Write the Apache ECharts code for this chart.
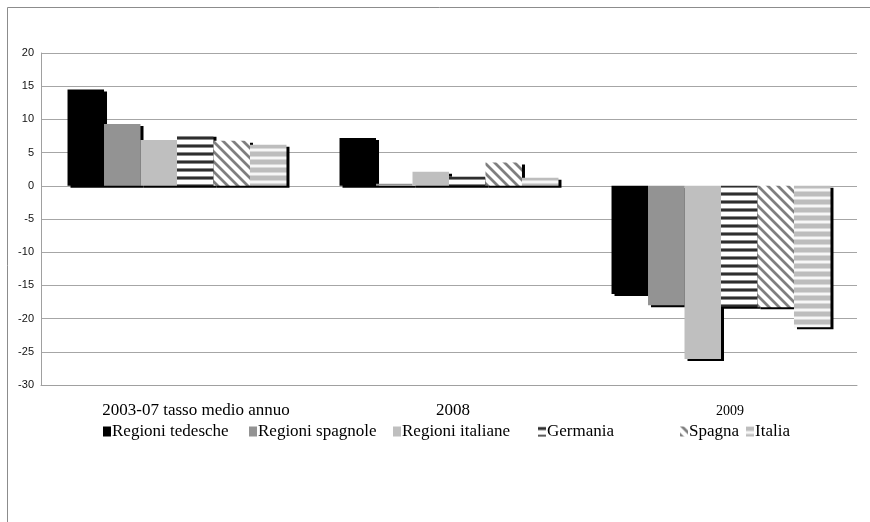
<!DOCTYPE html>
<html><head><meta charset="utf-8">
<script src="https://cdn.jsdelivr.net/npm/echarts@6/dist/echarts.min.js"></script>
<style>html,body{margin:0;padding:0;background:#fff}#c{width:870px;height:522px}</style>
</head><body><div id="c"></div>
<script>
const categories = ['2003-07 tasso medio annuo', '2008', '2009'];
const seriesNames = ['Regioni tedesche', 'Regioni spagnole', 'Regioni italiane', 'Germania', 'Spagna', 'Italia'];
const regioniTedesche = [14.5, 7.2, -16.3];
const regioniSpagnole = [9.3, 0.3, -18.0];
const regioniItaliane = [6.9, 2.1, -26.1];
const germania = [7.7, 1.4, -18.2];
const spagna = [6.8, 3.5, -18.3];
const italia = [6.2, 1.2, -21.3];
const yTicks = { min: -30, max: 20, interval: 5 };

function rowPattern(rows) {
  const c = document.createElement('canvas');
  c.width = 8; c.height = rows.length;
  const g = c.getContext('2d');
  rows.forEach((col, i) => { g.fillStyle = col; g.fillRect(0, i, 8, 1); });
  return c;
}
function diagPattern() {
  const n = 10;
  const c = document.createElement('canvas');
  c.width = n; c.height = n;
  const g = c.getContext('2d');
  for (let y = 0; y < n; y++) for (let x = 0; x < n; x++) {
    const d = ((x - y) % n + n) % n;
    let col = '#ffffff';
    if (d === 0 || d === 4) col = '#c4c4c4';
    else if (d >= 1 && d <= 3) col = '#7f7f7f';
    g.fillStyle = col; g.fillRect(x, y, 1, 1);
  }
  return c;
}
const germPat = rowPattern(['#8a8a8a', '#2e2e2e', '#2e2e2e', '#8a8a8a', '#ffffff', '#ffffff', '#ffffff', '#ffffff']);
const itaPat = rowPattern(['#bdbdbd', '#bdbdbd', '#bdbdbd', '#bdbdbd', '#d9d9d9', '#f7f7f7', '#f7f7f7', '#d9d9d9']);
const spaPat = diagPattern();

const fills = ['#000000', '#939393', '#bfbfbf',
  { image: germPat, repeat: 'repeat' },
  { image: spaPat, repeat: 'repeat' },
  { image: itaPat, repeat: 'repeat' }];
const values = [regioniTedesche, regioniSpagnole, regioniItaliane, germania, spagna, italia];
const legendLeft = [103, 249, 393, 538, 680, 746];

const chart = echarts.init(document.getElementById('c'), null, { renderer: 'canvas' });
const option = {
  animation: false,
  backgroundColor: '#ffffff',
  graphic: [{
    type: 'rect', silent: true, z: 0,
    shape: { x: 7.5, y: 7.5, width: 900, height: 600 },
    style: { fill: 'none', stroke: '#8c8c8c', lineWidth: 1 }
  }],
  grid: { left: 41, right: 13, top: 53, bottom: 137 },
  legend: seriesNames.map((n, i) => ({
    data: [n], left: legendLeft[i], top: 423,
    itemWidth: 8, itemHeight: 10, itemGap: 0, padding: 0,
    icon: 'rect',
    textStyle: { fontFamily: 'Liberation Serif', fontSize: 17, color: '#000', padding: [0, 0, 0, -4] }
  })),
  xAxis: {
    type: 'category', data: categories,
    axisLine: { onZero: false, lineStyle: { color: '#a0a0a0', width: 1 } },
    axisTick: { show: false },
    axisLabel: {
      margin: 17, interval: 0,
      formatter: function (v, i) { return '{l' + i + '|' + v + '}'; },
      rich: {
        l0: { fontFamily: 'Liberation Serif', fontSize: 17, color: '#000', padding: [0, 0, 0, 38] },
        l1: { fontFamily: 'Liberation Serif', fontSize: 17, color: '#000', padding: [0, 0, 0, 8] },
        l2: { fontFamily: 'Liberation Serif', fontSize: 14, color: '#000', padding: [2, 0, 0, 18] }
      }
    }
  },
  yAxis: {
    type: 'value', min: yTicks.min, max: yTicks.max, interval: yTicks.interval,
    axisLine: { show: true, lineStyle: { color: '#a0a0a0' } },
    axisTick: { show: false },
    axisLabel: { margin: 7, fontFamily: 'Liberation Sans', fontSize: 11, color: '#111' },
    splitLine: { lineStyle: { color: '#a6a6a6', width: 1 } }
  },
  series: seriesNames.map((n, i) => ({
    name: n, type: 'bar', data: values[i],
    barGap: '0%', barCategoryGap: '19.5%',
    itemStyle: {
      color: fills[i],
      shadowColor: '#000', shadowBlur: 0, shadowOffsetX: 3, shadowOffsetY: 2
    }
  }))
};
chart.setOption(option);
</script>
</body></html>
